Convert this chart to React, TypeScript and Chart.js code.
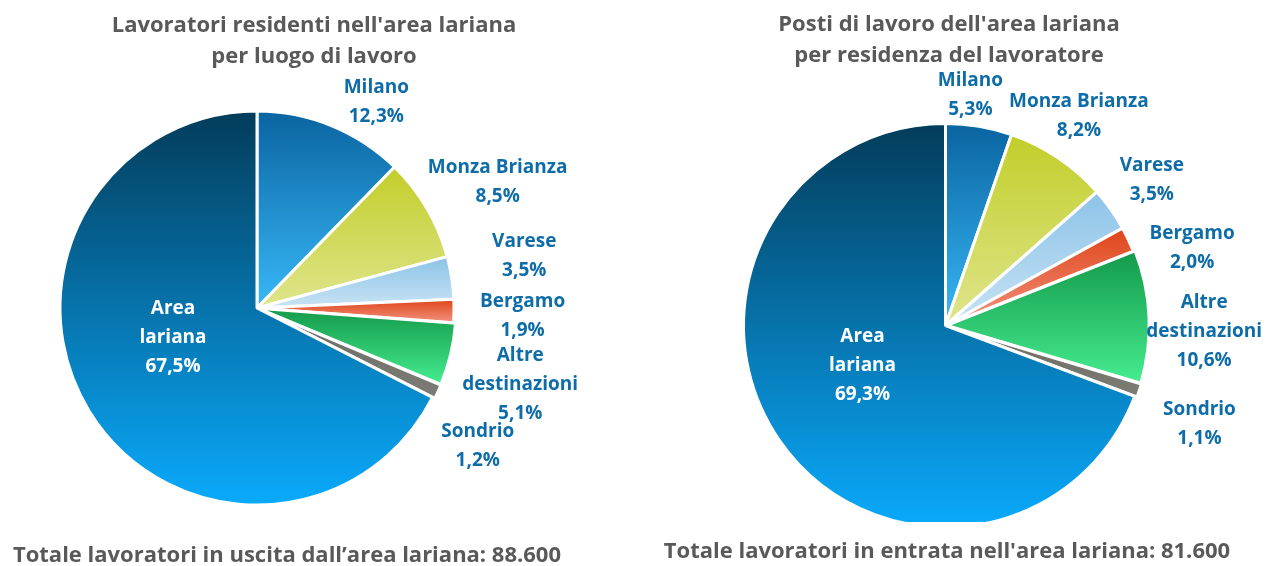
import React, { useEffect, useRef } from "react";
import { Chart, registerables } from "chart.js";

Chart.register(...registerables);

// ---------- data ----------
const categories = [
  "Milano",
  "Monza Brianza",
  "Varese",
  "Bergamo",
  "Altre destinazioni",
  "Sondrio",
  "Area lariana",
];
const labelLines = [
  ["Milano"],
  ["Monza Brianza"],
  ["Varese"],
  ["Bergamo"],
  ["Altre", "destinazioni"],
  ["Sondrio"],
  ["Area", "lariana"],
];
const uscitaValues = [12.3, 8.5, 3.5, 1.9, 5.1, 1.2, 67.5];
const entrataValues = [5.3, 8.2, 3.5, 2.0, 10.6, 1.1, 69.3];

const uscitaTitle = ["Lavoratori residenti nell'area lariana", "per luogo di lavoro"];
const entrataTitle = ["Posti di lavoro dell'area lariana", "per residenza del lavoratore"];
const uscitaTotal = "Totale lavoratori in uscita dall\u2019area lariana: 88.600";
const entrataTotal = "Totale lavoratori in entrata nell'area lariana: 81.600";

// ---------- styles ----------
const gradientTop = ["#0a64a0", "#c2ce2a", "#8cc3e8", "#df4418", "#139a4a", "#6c6c66", "#033c5a"];
const gradientBottom = ["#38b8f8", "#dfe58c", "#c8e3f4", "#f29480", "#46ec90", "#7c7c74", "#0aaafc"];
const sliceOffsets = [0, 0, 0, 0, 5, 5, 0];
const INSIDE_INDEX = 6;
const FONT = "'Open Sans', 'Noto Sans', sans-serif";
const GREY = "#595959";
const LABEL_BLUE = "#0e6ca8";

// label placement fine-tuning (pixels, per slice) — label layout only
const uscitaLabelNudges = [
  [26, 20],
  [-5, -2],
  [23, -14],
  [8, 4],
  [-7, 15],
  [-12, 33],
  [0, -22],
];
const entrataLabelNudges = [
  [-17, 15],
  [-28, -3],
  [0, -2],
  [9, 29],
  [-24, 18],
  [6, 18],
  [0, -17],
];

const fmt = (v: number) => v.toFixed(1).replace(".", ",") + "%";

function sliceGradient(ctx: any) {
  const chart = ctx.chart;
  const area = chart.chartArea;
  const i = ctx.dataIndex ?? 0;
  if (!area) return gradientTop[i];
  const data: number[] = ctx.dataset.data;
  const total = data.reduce((a, b) => a + b, 0);
  let cum = 0;
  for (let k = 0; k < i; k++) cum += data[k];
  const a0 = (cum / total) * Math.PI * 2;
  const a1 = ((cum + data[i]) / total) * Math.PI * 2;
  const cy = (area.top + area.bottom) / 2;
  const r = Math.min(area.width, area.height) / 2 - 4;
  const ys = [cy, cy - r * Math.cos(a0), cy - r * Math.cos(a1)];
  if (a0 <= 1e-6 || a1 >= Math.PI * 2 - 1e-6) ys.push(cy - r);
  if (a0 < Math.PI && a1 > Math.PI) ys.push(cy + r);
  const y0 = Math.min(...ys);
  const y1 = Math.max(...ys);
  const g = chart.ctx.createLinearGradient(0, y0, 0, Math.max(y1, y0 + 1));
  g.addColorStop(0, gradientTop[i]);
  g.addColorStop(1, gradientBottom[i]);
  return g;
}

const sliceLabelPlugin = {
  id: "sliceLabels",
  afterDatasetsDraw(chart: any, _args: any, opts: any) {
    const meta = chart.getDatasetMeta(0);
    const ds = chart.data.datasets[0];
    const c = chart.ctx;
    const lh = opts.lineHeight;
    c.save();
    c.font = `bold ${opts.fontSize}px ${FONT}`;
    c.textAlign = "center";
    c.textBaseline = "middle";
    meta.data.forEach((el: any, i: number) => {
      const p = el.getProps(["x", "y", "startAngle", "endAngle", "outerRadius"], true);
      const mid = (p.startAngle + p.endAngle) / 2;
      const cos = Math.cos(mid);
      const sin = Math.sin(mid);
      const lines = [...labelLines[i], fmt(ds.data[i])];
      const w = Math.max(...lines.map((t: string) => c.measureText(t).width));
      const h = lines.length * lh;
      let bx: number;
      let by: number;
      if (i === INSIDE_INDEX) {
        bx = p.x + cos * p.outerRadius * 0.5;
        by = p.y + sin * p.outerRadius * 0.5;
        c.fillStyle = "#ffffff";
      } else {
        const d = p.outerRadius + opts.distance + sliceOffsets[i];
        bx = p.x + cos * d + (w / 2) * cos;
        by = p.y + sin * d + (h / 2) * sin;
        c.fillStyle = LABEL_BLUE;
      }
      const n = (opts.nudges && opts.nudges[i]) || [0, 0];
      bx += n[0];
      by += n[1];
      lines.forEach((t: string, k: number) => {
        c.fillText(t, bx, by - h / 2 + lh * (k + 0.5));
      });
    });
    c.restore();
  },
};

type PieProps = {
  values: number[];
  width: number;
  height: number;
  padding: { left: number; right: number; top: number; bottom: number };
  nudges: number[][];
};

function PieChart({ values, width, height, padding, nudges }: PieProps) {
  const ref = useRef<HTMLCanvasElement | null>(null);
  useEffect(() => {
    if (!ref.current) return;
    const chart = new Chart(ref.current, {
      type: "pie",
      data: {
        labels: categories,
        datasets: [
          {
            data: values,
            backgroundColor: sliceGradient,
            hoverBackgroundColor: sliceGradient,
            borderColor: "#ffffff",
            hoverBorderColor: "#ffffff",
            borderWidth: 3,
            hoverBorderWidth: 3,
            offset: sliceOffsets,
            hoverOffset: 0,
          } as any,
        ],
      },
      options: {
        responsive: false,
        animation: false,
        events: [],
        layout: { padding },
        plugins: {
          legend: { display: false },
          tooltip: { enabled: false },
          sliceLabels: { fontSize: 19, lineHeight: 29, distance: 18, nudges },
        } as any,
      },
      plugins: [sliceLabelPlugin],
    });
    return () => chart.destroy();
  }, []);
  return <canvas ref={ref} width={width} height={height} style={{ width, height, display: "block" }} />;
}

const titleStyle: React.CSSProperties = {
  position: "absolute",
  textAlign: "center",
  fontFamily: FONT,
  fontWeight: 700,
  fontSize: 22,
  lineHeight: "31px",
  color: GREY,
  whiteSpace: "nowrap",
};

export default function App() {
  return (
    <div
      style={{
        position: "absolute",
        left: 0,
        top: 0,
        width: 1281,
        height: 566,
        overflow: "hidden",
        background: "#ffffff",
      }}
    >
      <div style={{ position: "absolute", left: 0, top: 0, width: 640, height: 566 }}>
        <PieChart
          values={uscitaValues}
          width={640}
          height={566}
          padding={{ left: 56, top: 107, right: 182, bottom: 57 }}
          nudges={uscitaLabelNudges}
        />
      </div>
      <div style={{ position: "absolute", left: 640, top: 0, width: 641, height: 522, overflow: "hidden" }}>
        <PieChart
          values={entrataValues}
          width={641}
          height={566}
          padding={{ left: 99.5, top: 119.5, right: 129.5, bottom: 34.5 }}
          nudges={entrataLabelNudges}
        />
      </div>
      <div style={{ ...titleStyle, left: 0, width: 628, top: 8 }}>
        {uscitaTitle.map((t) => (
          <div key={t}>{t}</div>
        ))}
      </div>
      <div style={{ ...titleStyle, left: 640, width: 618, top: 7 }}>
        {entrataTitle.map((t) => (
          <div key={t}>{t}</div>
        ))}
      </div>
      <div style={{ ...titleStyle, left: 0, width: 574, top: 538 }}>{uscitaTotal}</div>
      <div style={{ ...titleStyle, left: 640, width: 614, top: 534 }}>{entrataTotal}</div>
    </div>
  );
}
